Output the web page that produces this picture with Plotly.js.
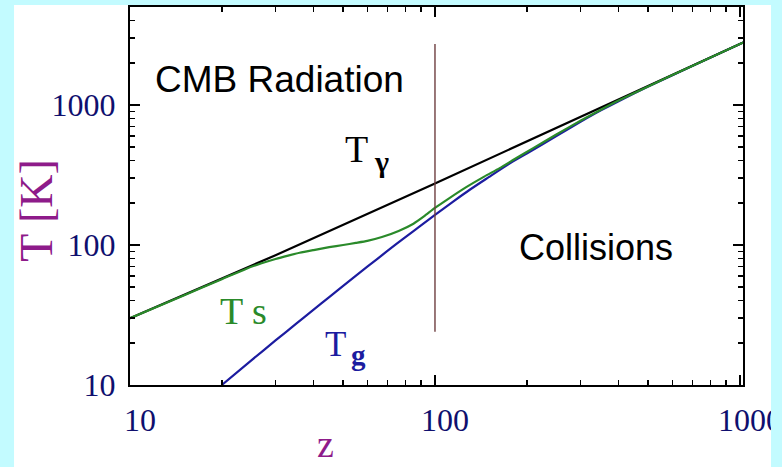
<!DOCTYPE html>
<html>
<head>
<meta charset="utf-8">
<script src="https://cdn.plot.ly/plotly-3.0.1.min.js"></script>
<style>
  html, body { margin: 0; padding: 0; background: #ffffff; }
  #chart { width: 782px; height: 467px; }
</style>
</head>
<body>
<div id="chart"></div>
<script>
// Redshift samples and temperatures (K) for the three curves
const zRadiation = [10, 30, 100, 300, 1000, 1025];
const tRadiation = [30, 84.5, 275, 820, 2730, 2800];

const zGas = [20, 25, 30, 35, 40, 45, 50, 60, 70, 80, 90, 100, 115, 130, 150, 175, 200, 250, 300, 350, 400, 500, 700, 1025];
const tGas = [10, 15, 20.8, 27.3, 34.5, 42.5, 51, 70, 91, 114, 138, 164, 205, 248, 305, 380, 450, 600, 758, 915, 1065, 1354, 1908, 2800];

const zSpin = [10, 15, 20, 24, 27, 30, 33, 36, 40, 45, 50, 55, 60, 67, 76, 85, 92, 100, 110, 127, 145, 163, 185, 210, 250, 300, 350, 400, 500, 700, 1025];
const tSpin = [30, 43.6, 57, 67.5, 74, 79.5, 84, 88, 92, 96.5, 100, 103.5, 107, 114, 126, 142, 160, 184, 212, 260, 308, 354, 418, 492, 615, 772, 925, 1075, 1358, 1909, 2800];

// Vertical divider between the two coupling regimes
const zDivider = [100, 100];
const tDivider = [24, 2730];

// Axis ticks
const xTickVals = [10, 100, 1000];
const xTickText = ['10', '100', '1000'];
const yTickVals = [10, 100, 1000];
const yTickText = ['10', '100', '1000'];
const xMinor = [20, 30, 40, 50, 60, 70, 80, 90, 200, 300, 400, 500, 600, 700, 800, 900];
const yMinor = [20, 30, 40, 50, 60, 70, 80, 90, 200, 300, 400, 500, 600, 700, 800, 900, 2000, 3000, 4000];

const xRange = [1, 3.01];
const yRange = [1, 3.7];

const serif = 'Liberation Serif, Times New Roman, serif';
const sans = 'Liberation Sans, Arial, sans-serif';
const tickColor = '#0f0f6e';
const titleColor = '#8e1b8a';
const border = '#c3fbff';
const gasColor = '#1c1ca0';
const spinColor = '#2a8a2a';

const traces = [
  { x: zGas, y: tGas, mode: 'lines', line: { color: gasColor, width: 2.2, shape: 'spline', smoothing: 0.6 }, hoverinfo: 'skip' },
  { x: zRadiation, y: tRadiation, mode: 'lines', line: { color: '#000000', width: 2.2 }, hoverinfo: 'skip' },
  { x: zSpin, y: tSpin, mode: 'lines', line: { color: spinColor, width: 2.2, shape: 'spline', smoothing: 0.6 }, hoverinfo: 'skip' },
  { x: zDivider, y: tDivider, mode: 'lines', line: { color: '#6e3e40', width: 1.4 }, hoverinfo: 'skip' },
  // empty traces that bind the tick-only overlay axes to the plot
  { x: [], y: [], xaxis: 'x2', yaxis: 'y', mode: 'lines', hoverinfo: 'skip' },
  { x: [], y: [], xaxis: 'x3', yaxis: 'y', mode: 'lines', hoverinfo: 'skip' },
  { x: [], y: [], xaxis: 'x', yaxis: 'y2', mode: 'lines', hoverinfo: 'skip' },
  { x: [], y: [], xaxis: 'x', yaxis: 'y3', mode: 'lines', hoverinfo: 'skip' }
];

// Major ticks with labels on the main axes
const majorAxis = {
  type: 'log',
  showline: true, linecolor: '#000', linewidth: 2, mirror: 'ticks',
  ticks: 'inside', ticklen: 10, tickwidth: 1.5, tickcolor: '#000',
  showgrid: false, zeroline: false,
  tickfont: { family: serif, size: 32, color: tickColor },
  tickmode: 'array'
};

// Short unlabeled ticks for the intermediate values, one overlay per side
function minorAxis(overlay, anchor, side, range, vals) {
  return {
    type: 'log', overlaying: overlay, anchor: anchor, side: side, range: range,
    autorange: false, fixedrange: true,
    showline: false, showgrid: false, zeroline: false, showticklabels: false,
    ticks: 'inside', ticklen: 5, tickwidth: 1.5, tickcolor: '#000',
    tickmode: 'array', tickvals: vals
  };
}

const layout = {
  width: 782, height: 467,
  margin: { l: 130, r: 39, t: 7, b: 82 },
  paper_bgcolor: '#ffffff', plot_bgcolor: '#ffffff',
  showlegend: false,
  xaxis: Object.assign({}, majorAxis, {
    range: xRange, tickvals: xTickVals, ticktext: xTickText,
    ticklabelstandoff: 6, ticklabelshift: 10
  }),
  yaxis: Object.assign({}, majorAxis, {
    range: yRange, tickvals: yTickVals, ticktext: yTickText,
    ticklabelstandoff: 6
  }),
  xaxis2: minorAxis('x', 'y', 'bottom', xRange, xMinor),
  xaxis3: minorAxis('x', 'y', 'top', xRange, xMinor),
  yaxis2: minorAxis('y', 'x', 'left', yRange, yMinor),
  yaxis3: minorAxis('y', 'x', 'right', yRange, yMinor),
  annotations: [
    { xref: 'paper', yref: 'paper', x: 0.0375, y: 0.8095, xanchor: 'left', yanchor: 'middle',
      text: 'CMB Radiation', showarrow: false, font: { family: sans, size: 37, color: '#000' } },
    { xref: 'paper', yref: 'paper', x: 0.631, y: 0.3638, xanchor: 'left', yanchor: 'middle',
      text: 'Collisions', showarrow: false, font: { family: sans, size: 36, color: '#000' } },
    { xref: 'paper', yref: 'paper', x: 0.3475, y: 0.624, xanchor: 'left', yanchor: 'middle',
      text: 'T', showarrow: false, font: { family: serif, size: 38, color: '#000' } },
    { xref: 'paper', yref: 'paper', x: 0.394, y: 0.59, xanchor: 'left', yanchor: 'middle',
      text: '<b>γ</b>', showarrow: false, font: { family: serif, size: 30, color: '#000' } },
    { xref: 'paper', yref: 'paper', x: 0.144, y: 0.195, xanchor: 'left', yanchor: 'middle',
      text: 'T s', showarrow: false, font: { family: serif, size: 38, color: spinColor } },
    { xref: 'paper', yref: 'paper', x: 0.315, y: 0.108, xanchor: 'left', yanchor: 'middle',
      text: 'T', showarrow: false, font: { family: serif, size: 35, color: gasColor } },
    { xref: 'paper', yref: 'paper', x: 0.357, y: 0.08, xanchor: 'left', yanchor: 'middle',
      text: '<b>g</b>', showarrow: false, font: { family: serif, size: 29, color: gasColor } },
    { xref: 'paper', yref: 'paper', x: -0.152, y: 0.463, xanchor: 'center', yanchor: 'middle',
      text: 'T [K]', textangle: -90, showarrow: false, font: { family: serif, size: 46, color: titleColor } },
    { xref: 'paper', yref: 'paper', x: 0.3197, y: -0.155, xanchor: 'center', yanchor: 'middle',
      text: 'z', showarrow: false, font: { family: serif, size: 38, color: titleColor } }
  ],
  shapes: [
    // light border strips framing the panel
    { type: 'rect', xref: 'paper', yref: 'paper', x0: -0.25, x1: -0.1892, y0: -0.3, y1: 1.05, layer: 'above', line: { width: 0 }, fillcolor: border },
    { type: 'rect', xref: 'paper', yref: 'paper', x0: -0.25, x1: 1.1, y0: 1.0053, y1: 1.05, layer: 'above', line: { width: 0 }, fillcolor: border },
    { type: 'rect', xref: 'paper', yref: 'paper', x0: 1.0457, x1: 1.1, y0: -0.3, y1: 1.05, layer: 'above', line: { width: 0 }, fillcolor: border }
  ]
};

Plotly.newPlot('chart', traces, layout, { displayModeBar: false, staticPlot: true });
</script>
</body>
</html>
